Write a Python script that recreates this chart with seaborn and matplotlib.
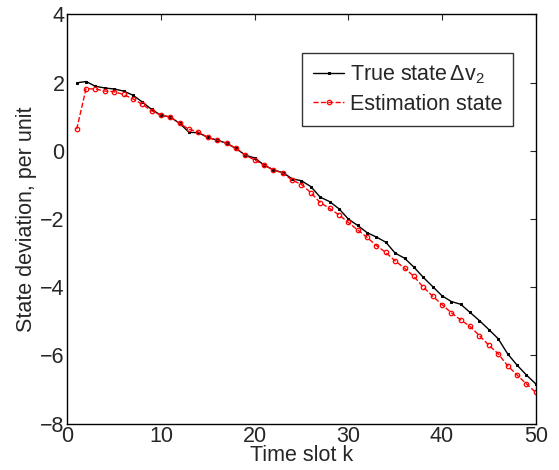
import numpy as np
import pandas as pd
import matplotlib
matplotlib.use("Agg")
import matplotlib.pyplot as plt
import seaborn as sns

k = list(range(1, 51))
true_state = [1.99, 2.03, 1.89, 1.84, 1.81, 1.75, 1.63, 1.43, 1.21, 1.04,
              0.99, 0.80, 0.54, 0.53, 0.39, 0.31, 0.22, 0.07, -0.13, -0.21,
              -0.42, -0.56, -0.64, -0.82, -0.88, -1.05, -1.36, -1.49, -1.70, -2.00,
              -2.19, -2.40, -2.53, -2.68, -3.00, -3.15, -3.41, -3.71, -3.98, -4.25,
              -4.42, -4.50, -4.74, -4.98, -5.24, -5.51, -5.95, -6.28, -6.57, -6.83]
est_state = [0.63, 1.82, 1.81, 1.75, 1.73, 1.65, 1.52, 1.36, 1.17, 1.04,
             0.99, 0.80, 0.63, 0.55, 0.39, 0.31, 0.22, 0.07, -0.13, -0.27,
             -0.42, -0.56, -0.66, -0.86, -0.99, -1.23, -1.52, -1.69, -1.88, -2.10,
             -2.32, -2.54, -2.78, -2.98, -3.23, -3.44, -3.68, -4.00, -4.26, -4.51,
             -4.75, -4.96, -5.15, -5.42, -5.70, -5.95, -6.30, -6.57, -6.83, -7.08]
x_ticks = [0, 10, 20, 30, 40, 50]
y_ticks = [-8, -6, -4, -2, 0, 2, 4]

sns.set_style("white")
plt.rcParams['font.family'] = ['Liberation Sans', 'DejaVu Sans']
plt.rcParams['mathtext.fontset'] = 'custom'
plt.rcParams['mathtext.rm'] = 'Liberation Sans'
plt.rcParams['mathtext.it'] = 'Liberation Sans'

FS = 15.5
df = pd.DataFrame({"k": k, "true": true_state, "est": est_state})

fig = plt.figure(figsize=(5.59, 4.70), dpi=100)
ax = fig.add_axes([0.1204, 0.0985, 0.8379, 0.8711])

sns.lineplot(data=df, x="k", y="true", ax=ax, color="black", linewidth=1.0,
             marker="s", markersize=2.0, markeredgecolor="black",
             label=r"True state$\,\Delta\mathrm{v}_2$")
sns.lineplot(data=df, x="k", y="est", ax=ax, color="red", linewidth=1.0,
             linestyle="--", marker="o", markersize=3.2, markerfacecolor="none",
             markeredgecolor="red", markeredgewidth=0.9,
             label="Estimation state")

ax.set_xlim(0, 50)
ax.set_ylim(-8, 4)
ax.set_xticks(x_ticks)
ax.set_yticks(y_ticks)
ax.tick_params(direction="in", top=True, right=True, labelsize=FS, length=4,
               width=0.8, pad=2)
for s in ax.spines.values():
    s.set_color("black")
    s.set_linewidth(1.0)
ax.set_xlabel("Time slot k", fontsize=FS, labelpad=-2)
ax.set_ylabel("State deviation, per unit", fontsize=FS, labelpad=2)

leg = ax.legend(loc="upper right", bbox_to_anchor=(513/559, 1-53/470),
                bbox_transform=fig.transFigure, fontsize=FS, frameon=True,
                fancybox=False, edgecolor="black", numpoints=1,
                handlelength=1.45, borderpad=0.5, labelspacing=0.35,
                handletextpad=0.25, borderaxespad=0)
leg.get_frame().set_linewidth(1.0)

fig.savefig("out.png", dpi=100)
